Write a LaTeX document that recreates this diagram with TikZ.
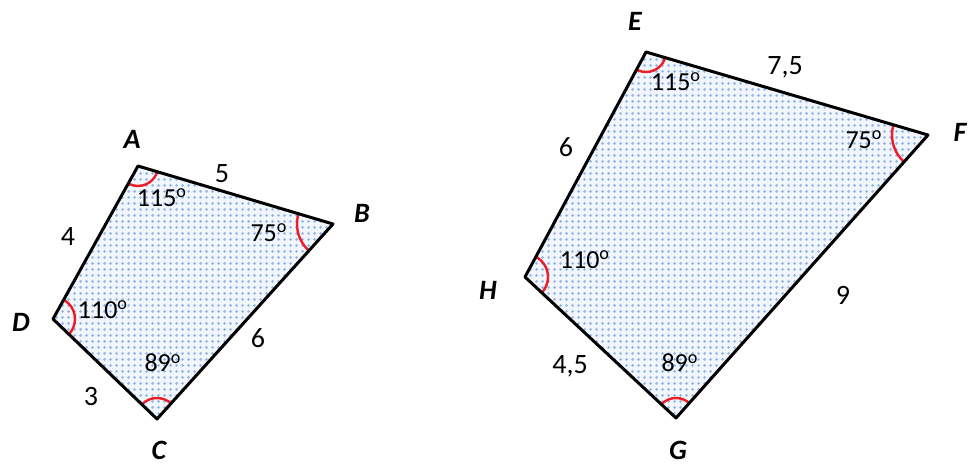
\documentclass[tikz,border=0pt]{standalone}
\usepackage{fontspec}
\setmainfont{Carlito}
\usepackage{tikz}
\usetikzlibrary{patterns.meta}
\definecolor{quadfill}{HTML}{F1F5FC}
\definecolor{quaddots}{HTML}{92B3E6}
\definecolor{anglered}{HTML}{EE1C24}
\tikzdeclarepattern{
  name=bluedots,
  type=uncolored,
  bounding box={(0,0) and (3pt,3pt)},
  tile size={(3pt,3pt)},
  code={\fill (1.5pt,1.5pt) circle (0.85pt);}
}
\newcommand{\degmark}{\textsuperscript{o}}
\tikzset{
every picture/.style={line cap=round,line join=round},
quad side/.style={draw=black, line width=1.5pt},
quad fill/.style={fill=quadfill, postaction={pattern=bluedots, pattern color=quaddots}},
angle mark/.style={draw=anglered, line width=1.2pt},
vertex label/.style={font=\fontsize{14}{16}\selectfont\bfseries\itshape, inner sep=0pt},
side label/.style={font=\fontsize{14}{16}\selectfont, inner sep=0pt},
angle label/.style={font=\fontsize{13}{15}\selectfont, inner sep=0pt}
}

\begin{document}
\begin{tikzpicture}[x=0.5pt,y=-0.5pt]
\useasboundingbox (0,0) rectangle (968,464);
% small quadrilateral
\coordinate (A) at (138,166);
\coordinate (B) at (333,224);
\coordinate (C) at (157,419);
\coordinate (D) at (53,319);
% large quadrilateral
\coordinate (E) at (646,52);
\coordinate (F) at (928,135);
\coordinate (G) at (676,418);
\coordinate (H) at (525,277);

\path[quad fill] (A) -- (B) -- (C) -- (D) -- cycle;
\path[quad fill] (E) -- (F) -- (G) -- (H) -- cycle;

\begin{scope}
\clip (A) -- (B) -- (C) -- (D) -- cycle;
\foreach \v/\r in {A/20,B/36,C/21,D/22}
  \draw[angle mark] (\v) circle[radius=\r*0.5pt];
\end{scope}
\begin{scope}
\clip (E) -- (F) -- (G) -- (H) -- cycle;
\foreach \v/\r in {E/20,F/36,G/20,H/23}
  \draw[angle mark] (\v) circle[radius=\r*0.5pt];
\end{scope}

\draw[quad side] (A) -- (B) -- (C) -- (D) -- cycle;
\draw[quad side] (E) -- (F) -- (G) -- (H) -- cycle;

% vertex names
\node[vertex label] (lA) at (132,139) {A};
\node[vertex label] (lB) at (362,213) {B};
\node[vertex label] (lC) at (159,450) {C};
\node[vertex label] (lD) at (21,322) {D};
\node[vertex label] (lE) at (635,21) {E};
\node[vertex label] (lF) at (960,132) {F};
\node[vertex label] (lG) at (678,450) {G};
\node[vertex label] (lH) at (488,290) {H};

% side lengths
\node[side label] (sAB) at (222,174) {5};
\node[side label] (sDA) at (68,237) {4};
\node[side label] (sBC) at (258,338) {6};
\node[side label] (sCD) at (91,397) {3};
\node[side label] (sEF) at (785,67) {7,5};
\node[side label] (sHE) at (566,147) {6};
\node[side label] (sFG) at (843,295) {9};
\node[side label] (sGH) at (570,366) {4,5};

% angles
\node[angle label] (aA) at (162,198) {115\degmark};
\node[angle label] (aB) at (269,233) {75\degmark};
\node[angle label] (aD) at (103,310) {110\degmark};
\node[angle label] (aC) at (163,363) {89\degmark};
\node[angle label] (aE) at (676,82) {115\degmark};
\node[angle label] (aF) at (864,140) {75\degmark};
\node[angle label] (aH) at (585,260) {110\degmark};
\node[angle label] (aG) at (680,363) {89\degmark};
\end{tikzpicture}
\end{document}
